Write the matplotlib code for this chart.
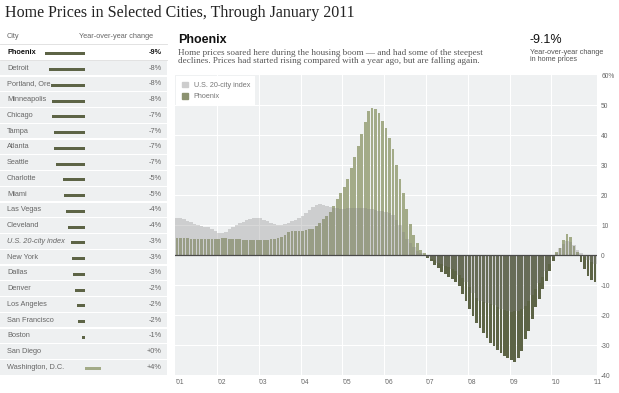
import numpy as np
import matplotlib.pyplot as plt
from matplotlib.patches import Patch

# figure size in pixels
W, H = 619, 393

# left table: year-over-year change, January 2011
cities = ['Phoenix', 'Detroit', 'Portland, Ore.', 'Minneapolis', 'Chicago', 'Tampa',
          'Atlanta', 'Seattle', 'Charlotte', 'Miami', 'Las Vegas', 'Cleveland',
          'U.S. 20-city index', 'New York', 'Dallas', 'Denver', 'Los Angeles',
          'San Francisco', 'Boston', 'San Diego', 'Washington, D.C.']
city_change = [-9.1, -8.2, -7.7, -7.6, -7.4, -7.0, -7.0, -6.7, -4.9, -4.7, -4.4, -3.9,
               -3.1, -3.0, -2.8, -2.3, -1.9, -1.7, -0.6, 0.1, 3.6]

# monthly year-over-year change, Jan 2001 .. Jan 2011
year_labels = ["'01", "'02", "'03", "'04", "'05", "'06", "'07", "'08", "'09", "'10", "'11"]
us_index = [12.3, 12.2, 12.0, 11.5, 11.1, 10.5, 9.9, 9.6, 9.5, 9.4, 8.8, 8.0,
            7.3, 7.2, 7.8, 8.6, 9.4, 10.0, 10.6, 11.1, 11.6, 12.0, 12.2, 12.3,
            12.2, 11.8, 11.2, 10.6, 10.2, 10.0, 10.1, 10.5, 10.8, 11.2, 11.7, 12.3,
            13.1, 14.0, 15.0, 16.0, 16.7, 16.9, 16.6, 16.2, 15.9, 15.7, 15.6, 15.5,
            15.5, 15.6, 15.7, 15.8, 15.8, 15.7, 15.6, 15.5, 15.3, 15.0, 14.8, 14.6,
            14.2, 13.9, 13.4, 11.8, 9.9, 7.6, 5.4, 3.9, 2.6, 1.5, 0.6, -0.1,
            -0.6, -1.2, -1.8, -2.5, -3.0, -3.6, -4.1, -4.6, -5.4, -6.5, -7.8, -9.1,
            -10.7, -12.6, -14.3, -15.3, -15.8, -15.9, -16.3, -16.6, -17.4, -18.0, -18.2, -18.6,
            -19.0, -18.8, -18.7, -18.1, -17.1, -15.4, -13.3, -11.3, -9.4, -7.3, -5.3, -3.1,
            -0.7, 0.6, 2.3, 3.8, 4.6, 4.2, 3.2, 1.7, 0.6, -0.8, -1.6, -2.4,
            -3.1]
phoenix = [5.8, 5.7, 5.6, 5.6, 5.5, 5.5, 5.5, 5.4, 5.4, 5.4, 5.5, 5.5,
           5.5, 5.6, 5.6, 5.5, 5.4, 5.3, 5.2, 5.1, 5.0, 5.0, 4.9, 4.9,
           4.9, 5.0, 5.1, 5.2, 5.4, 5.6, 6.0, 6.8, 7.6, 8.0, 8.1, 8.1,
           8.1, 8.3, 8.6, 8.8, 9.7, 10.8, 11.9, 13.0, 14.3, 16.3, 18.6, 20.6,
           22.8, 25.5, 28.9, 32.8, 36.3, 40.2, 44.3, 48.0, 49.1, 48.6, 47.2, 44.7,
           42.5, 39.1, 35.2, 29.9, 25.2, 20.8, 15.2, 10.4, 6.7, 3.9, 1.7, 0.6,
           -0.9, -2.0, -3.3, -4.2, -5.6, -6.4, -7.2, -7.9, -8.9, -10.3, -13.1, -15.3,
           -18.1, -20.3, -22.5, -24.2, -25.9, -27.8, -29.2, -30.3, -31.8, -32.6, -33.6, -34.4,
           -35.1, -35.8, -34.3, -31.9, -28.0, -25.2, -21.3, -17.4, -14.7, -11.3, -8.6, -5.2,
           -1.9, 0.9, 2.2, 5.1, 7.0, 5.9, 3.1, 0.9, -2.4, -4.7, -6.9, -8.2,
           -9.1]

pos_col = '#a3ab88'
neg_col = '#5d6446'
sans = ['Liberation Sans', 'DejaVu Sans']
serif = ['Liberation Serif', 'DejaVu Serif']

fig = plt.figure(figsize=(W / 100, H / 100), dpi=100)
fig.patch.set_facecolor('white')

# page axes in pixel coordinates for the table and the headings
page = fig.add_axes([0, 0, 1, 1])
page.set_xlim(0, W)
page.set_ylim(H, 0)
page.axis('off')

page.text(5, 13, 'Home Prices in Selected Cities, Through January 2011', family=serif,
          fontsize=11.5, color='#222222', va='center', ha='left')

# table
page.text(7, 36, 'City', family=sans, fontsize=5.3, color='#666666', va='center')
page.text(116, 36, 'Year-over-year change', family=sans, fontsize=5.3, color='#666666',
          va='center', ha='center')
page.plot([0, 167], [44, 44], color='#dddddd', lw=0.6)

row_y = 52.3 + 15.75 * np.arange(len(cities))
row_bg = ['white' if c == 'Phoenix' else '#eef0f1' for c in cities]
page.barh(row_y, 167, left=0, height=14.6, color=row_bg, lw=0)
page.plot([0, 167], [row_y[0] + 7.5, row_y[0] + 7.5], color='#dddddd', lw=0.6)

scale = 4.4  # pixels per percent
bar_cols = [neg_col if v < 0 else pos_col for v in city_change]
page.barh(np.round(row_y) + 1.5, np.array(city_change) * scale, left=85, height=3,
          color=bar_cols, lw=0)

for y, c, v in zip(row_y, cities, city_change):
    bold = c == 'Phoenix'
    page.text(7, y, c, family=sans, fontsize=5.3, va='center',
              color='#111111' if bold else '#666666',
              weight='bold' if bold else 'normal',
              style='italic' if c.startswith('U.S.') else 'normal')
    page.text(162, y, '{:+.0f}%'.format(v), family=sans, fontsize=5.3, va='center',
              ha='right', color='#111111' if bold else '#666666',
              weight='bold' if bold else 'normal')

# chart headings
page.text(178, 40, 'Phoenix', family=sans, fontsize=9, weight='bold', color='#111111',
          va='center')
page.text(178, 57, 'Home prices soared here during the housing boom \u2014 and had some of the steepest\n'
          'declines. Prices had started rising compared with a year ago, but are falling again.',
          family=serif, fontsize=6.6, color='#555555', va='center', linespacing=1.05)
page.text(530, 40, '-9.1%', family=sans, fontsize=9, color='#111111', va='center')
page.text(530, 56, 'Year-over-year change\nin home prices', family=sans, fontsize=5.2,
          color='#555555', va='center', linespacing=1.1)

# main chart
ax = fig.add_axes([175 / W, 1 - 375 / H, 422 / W, 300 / H])
ax.set_facecolor('#eff1f2')
months = np.arange(len(phoenix))

for k in range(1, len(year_labels) - 1):
    ax.axvline(12 * k - 0.5, color='white', lw=0.8, zorder=1)
for v in range(-30, 60, 10):
    ax.axhline(v, color='white', lw=0.8, zorder=1)

ax.bar(months, phoenix, width=0.8, color=[pos_col if v >= 0 else neg_col for v in phoenix],
       lw=0, zorder=2)

# U.S. index as a stepped translucent area over the bars
edges = np.append(months - 0.5, months[-1] + 0.5)
ax.fill_between(edges, np.append(us_index, us_index[-1]), 0, step='post',
                color='#7f7f7f', alpha=0.3, lw=0, zorder=3)

ax.axhline(0, color='#4a4a4a', lw=0.9, zorder=4)

ax.set_xlim(-0.6, 120.6)
ax.set_ylim(-40, 60)
ax.set_xticks(12 * np.arange(len(year_labels)) - 0.5)
ax.set_xticklabels(year_labels, family=sans, fontsize=4.8, color='#666666', ha='left')
ax.set_yticks(np.arange(-40, 70, 10))
ax.set_yticklabels([str(v) for v in range(-40, 60, 10)] + ['60%'], family=sans,
                   fontsize=4.8, color='#666666')
ax.yaxis.tick_right()
ax.tick_params(length=0, pad=3)
for s in ax.spines.values():
    s.set_visible(False)

leg = ax.legend(handles=[Patch(color='#cdcdcd', label='U.S. 20-city index'),
                         Patch(color='#8c9270', label='Phoenix')],
                loc='upper left', frameon=True, facecolor='white', edgecolor='none',
                fancybox=False, framealpha=1, borderaxespad=0.2, borderpad=0.7,
                handlelength=0.9, handleheight=0.9, handletextpad=0.8,
                prop={'family': sans, 'size': 5.2}, labelcolor='#777777')
leg.set_zorder(5)

fig.savefig('out.png', dpi=100)
